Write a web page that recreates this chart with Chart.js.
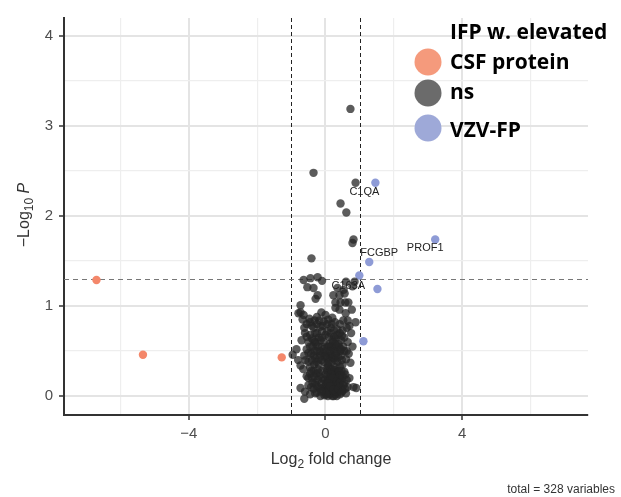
<!DOCTYPE html>
<html>
<head>
<meta charset="utf-8">
<script src="https://cdn.jsdelivr.net/npm/chart.js@4/dist/chart.umd.min.js"></script>
<style>
  html, body { margin: 0; padding: 0; background: #fff; }
</style>
</head>
<body>
<canvas id="volcano" width="621" height="497"></canvas>
<script>
// IFP w. elevated CSF protein (log2 fold change, -log10 p)
const csfX = [-6.7, -5.34, -1.28];
const csfY = [1.29, 0.46, 0.43];

// VZV-FP
const vzvX = [1.46, 3.21, 1.28, 0.99, 1.52, 1.11];
const vzvY = [2.37, 1.74, 1.49, 1.34, 1.19, 0.61];
const vzvLabels = ['C1QA', 'PROF1', 'FCGBP', 'C163A', '', ''];

// ns
const nsPoints = [
  [0.73, 3.19], [-0.35, 2.48], [0.88, 2.37], [0.44, 2.14], [0.61, 2.04],
  [0.82, 1.74], [0.79, 1.70], [-0.41, 1.53],
  [-0.64, 1.29], [-0.44, 1.31], [-0.23, 1.32], [-0.53, 1.21], [-0.35, 1.2],
  [-0.23, 1.12], [-0.29, 1.08], [0.35, 1.2], [0.53, 1.18], [0.79, 1.22],
  [0.85, 1.27], [0.23, 1.12], [0.41, 1.12], [0.56, 1.14], [0.29, 1.04],
  [0.44, 1.04], [0.58, 1.04], [0.67, 1.04], [0.29, 0.98], [-0.73, 1.01],
  [-0.73, 0.93], [-0.64, 0.9], [-0.47, 0.86], [-0.32, 0.84], [0.41, 0.96],
  [0.59, 0.92], [0.77, 0.96], [0.65, 0.84], [0.88, 0.82], [-0.1, 1.28], [0.6, 1.27],
  [-0.79, 0.92], [-0.67, 0.85], [-0.55, 0.8], [-0.4, 0.78], [-0.25, 0.8],
  [-0.15, 0.77], [-0.05, 0.83], [0.05, 0.8], [0.15, 0.76], [0.25, 0.73],
  [0.35, 0.74], [0.5, 0.73], [0.62, 0.76], [0.75, 0.7], [-0.6, 0.7],
  [-0.45, 0.68], [-0.3, 0.7], [-0.2, 0.65], [-0.1, 0.72], [0, 0.68],
  [0.1, 0.66], [0.2, 0.62], [0.3, 0.64], [0.45, 0.62], [0.55, 0.65],
  [-0.7, 0.62], [-0.5, 0.6], [-0.35, 0.62], [-0.05, 0.6], [0.12, 0.58],
  [0.38, 0.58], [0.65, 0.6], [-0.25, 0.88], [0, 0.9], [0.2, 0.87], [-0.12, 0.93],
  [-0.45, 0.82], [-0.35, 0.76], [-0.18, 0.84], [-0.08, 0.78], [0.08, 0.85],
  [0.18, 0.8], [0.28, 0.82], [0.42, 0.8], [0.52, 0.84], [-0.55, 0.66],
  [-0.4, 0.64], [-0.25, 0.7], [-0.15, 0.62], [0.05, 0.72], [0.15, 0.7],
  [0.25, 0.66], [0.35, 0.68], [0.48, 0.67], [-0.3, 0.6], [-0.1, 0.65],
  [0.22, 0.6], [0.42, 0.7], [-0.62, 0.76], [0.7, 0.78],
  [-0.96, 0.46], [-0.85, 0.52], [-0.8, 0.4], [-0.73, 0.34], [-0.62, 0.45],
  [-0.55, 0.52], [-0.5, 0.38], [-0.42, 0.47], [-0.38, 0.55], [-0.3, 0.42],
  [-0.25, 0.5], [-0.2, 0.35], [-0.15, 0.45], [-0.1, 0.55], [-0.05, 0.38],
  [0, 0.5], [0.05, 0.42], [0.08, 0.33], [0.1, 0.55], [0.15, 0.47],
  [0.18, 0.38], [0.22, 0.52], [0.25, 0.42], [0.28, 0.32], [0.32, 0.48],
  [0.35, 0.38], [0.4, 0.54], [0.45, 0.45], [0.5, 0.35], [0.55, 0.5],
  [0.6, 0.41], [0.68, 0.47], [0.73, 0.37], [0.79, 0.55], [-0.65, 0.3],
  [-0.45, 0.32], [-0.33, 0.35], [0.12, 0.45], [0.02, 0.31], [-0.08, 0.48],
  [0.3, 0.57], [-0.28, 0.58], [0.2, 0.3], [0.42, 0.33],
  [-0.5, 0.48], [-0.45, 0.55], [-0.35, 0.45], [-0.27, 0.38], [-0.22, 0.55],
  [-0.17, 0.5], [-0.12, 0.4], [-0.05, 0.52], [0.03, 0.45], [0.07, 0.55],
  [0.1, 0.38], [0.17, 0.55], [0.2, 0.43], [0.25, 0.5], [0.28, 0.4],
  [0.33, 0.55], [0.38, 0.43], [0.43, 0.5], [0.48, 0.4], [0.52, 0.55],
  [-0.4, 0.4], [-0.32, 0.5], [-0.02, 0.44], [0.14, 0.5], [0.3, 0.45],
  [0.46, 0.52], [-0.58, 0.4], [0.62, 0.5], [-0.18, 0.42], [0.06, 0.36],
  [-0.73, 0.09], [-0.6, 0.05], [-0.62, -0.03], [-0.5, 0.12], [-0.45, 0.02],
  [-0.4, 0.2], [-0.35, 0.08], [-0.3, 0.15], [-0.28, 0.25], [-0.25, 0.04],
  [-0.2, 0.1], [-0.18, 0.22], [-0.15, 0], [-0.12, 0.14], [-0.1, 0.28],
  [-0.08, 0.06], [-0.05, 0.18], [-0.03, 0.01], [0, 0.1], [0, 0.24],
  [0.02, 0.04], [0.04, 0.16], [0.05, 0.28], [0.07, 0], [0.08, 0.08],
  [0.1, 0.2], [0.1, 0.12], [0.12, 0.02], [0.13, 0.26], [0.15, 0.06],
  [0.15, 0.16], [0.17, 0.1], [0.18, 0.22], [0.2, 0], [0.2, 0.14],
  [0.22, 0.05], [0.23, 0.27], [0.25, 0.18], [0.26, 0.1], [0.28, 0.02],
  [0.3, 0.2], [0.3, 0.08], [0.32, 0.14], [0.35, 0.25], [0.35, 0.04],
  [0.38, 0.12], [0.4, 0.2], [0.42, 0.02], [0.45, 0.1], [0.48, 0.18],
  [0.5, 0.06], [0.55, 0.14], [0.6, 0.03], [0.65, 0.1], [0.7, 0.2],
  [0.82, 0.1], [0.9, 0.09], [-0.55, 0.22], [-0.42, 0.28], [-0.22, 0.3],
  [0.05, 0.22], [0.14, 0.3], [0.27, 0.29], [0.38, 0.27], [0.47, 0.28],
  [0.58, 0.24], [-0.05, 0.1], [0.09, 0.03], [0.18, 0.04], [0.24, 0],
  [0.33, 0], [0.02, 0.14], [0.12, 0.18], [0.22, 0.12], [0.27, 0.22],
  [0.16, 0.24], [0.06, 0.06], [-0.1, 0.2], [0.36, 0.17], [0.44, 0.23],
  [-0.15, 0.08], [0.19, 0.08], [0.29, 0.12], [0.11, 0.08], [0.01, 0.02],
  [0.21, 0.2], [0.08, 0.14], [0.31, 0.05], [0.14, 0.11], [0.24, 0.07],
  [-0.5, 0.2], [-0.42, 0.1], [-0.38, 0.15], [-0.33, 0.22], [-0.3, 0.03],
  [-0.22, 0.18], [-0.2, 0.26], [-0.12, 0.05], [0.37, 0.08], [0.4, 0.28],
  [0.43, 0.15], [0.5, 0.22], [0.52, 0.12], [0.58, 0.08], [0.62, 0.18],
  [-0.27, 0.12], [-0.35, 0.28], [0.47, 0.04], [0.55, 0.27], [-0.45, 0.25]
];

const fcCutoff = 1;
const pCutoff = 1.3;
const totalNote = 'total = 328 variables';

const orange = '#F4876A';
const grey = 'rgba(38, 38, 38, 0.75)';
const blue = '#8E9BD6';

function minus(v) {
  return v < 0 ? '\u2212' + Math.abs(v) : String(v);
}

function isMajorX(ctx) {
  return ctx.tick && Math.abs(ctx.tick.value % 4) < 1e-9;
}

function isMajorY(ctx) {
  return ctx.tick && Number.isInteger(ctx.tick.value);
}

// text with subscripts / italics, centred on x
function drawParts(ctx, parts, x, y, size) {
  const fontOf = (p) =>
    (p[1] === 'it' ? 'italic ' : '') +
    (p[1] === 'sub' ? Math.round(size * 0.72) : size) + 'px "Liberation Sans", Arial, sans-serif';
  let width = 0;
  parts.forEach((p) => {
    ctx.font = fontOf(p);
    width += ctx.measureText(p[0]).width;
  });
  let cx = x - width / 2;
  parts.forEach((p) => {
    ctx.font = fontOf(p);
    ctx.fillText(p[0], cx, p[1] === 'sub' ? y + size * 0.28 : y);
    cx += ctx.measureText(p[0]).width;
  });
}

const cutoffLines = {
  id: 'cutoffLines',
  beforeDatasetsDraw(chart) {
    const { ctx, chartArea, scales } = chart;
    ctx.save();
    ctx.lineWidth = 1;
    ctx.setLineDash([4, 3]);
    ctx.strokeStyle = '#222';
    [-fcCutoff, fcCutoff].forEach((v) => {
      const px = Math.round(scales.x.getPixelForValue(v)) + 0.5;
      ctx.beginPath();
      ctx.moveTo(px, chartArea.top);
      ctx.lineTo(px, chartArea.bottom);
      ctx.stroke();
    });
    ctx.strokeStyle = '#777';
    ctx.setLineDash([5, 4]);
    const py = Math.round(scales.y.getPixelForValue(pCutoff)) + 0.5;
    ctx.beginPath();
    ctx.moveTo(chartArea.left, py);
    ctx.lineTo(chartArea.right, py);
    ctx.stroke();
    ctx.restore();
  }
};

const extras = {
  id: 'extras',
  afterDraw(chart) {
    const ctx = chart.ctx;
    ctx.save();

    // point labels
    const offsets = { C1QA: [-11, 9], PROF1: [-10, 9], FCGBP: [10, -9], C163A: [-11, 11] };
    const meta = chart.getDatasetMeta(2);
    ctx.font = '11px "Liberation Sans", Arial, sans-serif';
    ctx.fillStyle = '#222';
    ctx.textAlign = 'center';
    ctx.textBaseline = 'middle';
    meta.data.forEach((el, i) => {
      const name = vzvLabels[i];
      if (!name) return;
      const off = offsets[name];
      ctx.fillText(name, el.x + off[0], el.y + off[1]);
    });

    // axis titles
    ctx.textAlign = 'left';
    ctx.textBaseline = 'alphabetic';
    ctx.fillStyle = '#333';
    drawParts(ctx, [['Log', ''], ['2', 'sub'], [' fold change', '']], 331, 464, 16);
    ctx.save();
    ctx.translate(29, 215);
    ctx.rotate(-Math.PI / 2);
    drawParts(ctx, [['\u2212Log', ''], ['10', 'sub'], [' ', ''], ['P', 'it']], 0, 0, 16);
    ctx.restore();

    // caption
    ctx.font = '12px "Liberation Sans", Arial, sans-serif';
    ctx.textAlign = 'right';
    ctx.fillText(totalNote, 615, 493);

    // legend
    ctx.textAlign = 'left';
    ctx.fillStyle = '#000';
    ctx.font = 'bold 21px "Open Sans", sans-serif';
    ctx.fillText('IFP w. elevated', 450, 39);
    const items = [
      ['CSF protein', '#F59A7C', 62, 69],
      ['ns', '#6b6b6b', 93, 99],
      ['VZV-FP', '#9EA9D8', 128, 137]
    ];
    items.forEach((it) => {
      ctx.fillStyle = it[1];
      ctx.beginPath();
      ctx.arc(428, it[2], 13.5, 0, Math.PI * 2);
      ctx.fill();
      ctx.fillStyle = '#000';
      ctx.fillText(it[0], 450, it[3]);
    });
    ctx.restore();
  }
};

new Chart(document.getElementById('volcano'), {
  type: 'scatter',
  data: {
    datasets: [
      {
        label: 'ns',
        data: nsPoints.map((p) => ({ x: p[0], y: p[1] })),
        backgroundColor: grey,
        pointRadius: 4.2,
        borderWidth: 0
      },
      {
        label: 'CSF protein',
        data: csfX.map((x, i) => ({ x: x, y: csfY[i] })),
        backgroundColor: orange,
        pointRadius: 4.2,
        borderWidth: 0
      },
      {
        label: 'VZV-FP',
        data: vzvX.map((x, i) => ({ x: x, y: vzvY[i] })),
        backgroundColor: blue,
        pointRadius: 4.2,
        borderWidth: 0
      }
    ]
  },
  options: {
    responsive: false,
    animation: false,
    layout: { padding: { left: 0, top: 18, right: 33, bottom: 22 } },
    plugins: {
      legend: { display: false },
      tooltip: { enabled: false }
    },
    scales: {
      x: {
        type: 'linear',
        min: -7.65,
        max: 7.68,
        afterFit: (s) => { s.height = 60; },
        ticks: {
          stepSize: 2,
          includeBounds: false,
          autoSkip: false,
          maxRotation: 0,
          padding: 5,
          color: '#4d4d4d',
          font: { family: '"Liberation Sans", Arial, sans-serif', size: 15 },
          callback: (v) => (Math.abs(v % 4) < 1e-9 ? minus(v) : '')
        },
        grid: {
          color: (c) => (isMajorX(c) ? '#e4e4e4' : '#eeeeee'),
          lineWidth: (c) => (isMajorX(c) ? 2 : 1.2),
          tickColor: (c) => (isMajorX(c) ? '#333' : 'rgba(0,0,0,0)'),
          tickLength: 5,
          tickWidth: 1.5
        },
        border: { display: true, color: '#333', width: 2 }
      },
      y: {
        type: 'linear',
        min: -0.21,
        max: 4.2,
        afterFit: (s) => { s.width = 64; },
        ticks: {
          stepSize: 0.5,
          includeBounds: false,
          autoSkip: false,
          padding: 6,
          color: '#4d4d4d',
          font: { family: '"Liberation Sans", Arial, sans-serif', size: 15 },
          callback: (v) => (Number.isInteger(v) ? minus(v) : '')
        },
        grid: {
          color: (c) => (isMajorY(c) ? '#e4e4e4' : '#eeeeee'),
          lineWidth: (c) => (isMajorY(c) ? 2 : 1.2),
          tickColor: (c) => (isMajorY(c) ? '#333' : 'rgba(0,0,0,0)'),
          tickLength: 5,
          tickWidth: 1.5
        },
        border: { display: true, color: '#333', width: 2 }
      }
    }
  },
  plugins: [cutoffLines, extras]
});
</script>
</body>
</html>
